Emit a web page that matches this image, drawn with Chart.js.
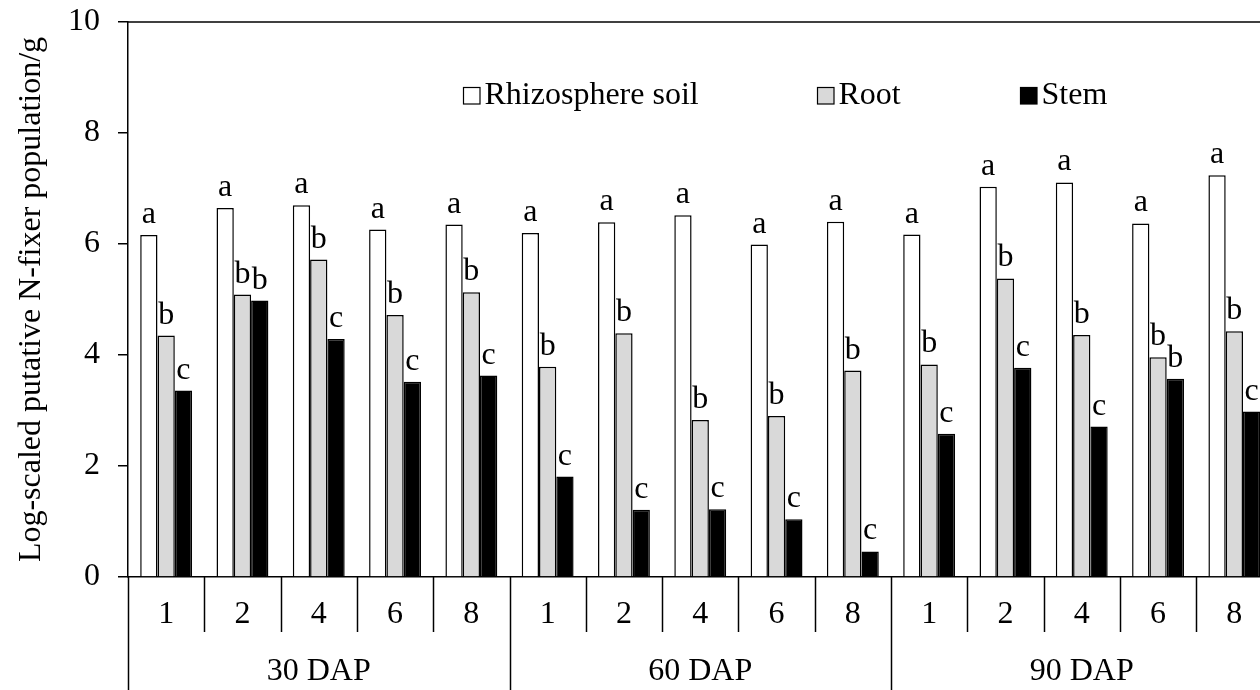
<!DOCTYPE html>
<html>
<head>
<meta charset="utf-8">
<script src="https://cdn.jsdelivr.net/npm/chart.js@4.4.1/dist/chart.umd.min.js"></script>
<style>
  html, body { margin: 0; padding: 0; background: #fff; overflow: hidden; }
  canvas { display: block; }
</style>
</head>
<body>
<canvas id="myChart" width="1280" height="690"></canvas>
<script>
// sub categories (days) and their DAP groups
const categories = ['1','2','4','6','8','1','2','4','6','8','1','2','4','6','8'];
const groups = ['30 DAP','60 DAP','90 DAP'];
const seriesNames = ['Rhizosphere soil','Root','Stem'];

// values
const rhizosphere = [6.16,6.65,6.70,6.26,6.35, 6.20,6.39,6.52,5.99,6.40, 6.17,7.03,7.11,6.37,7.24];
const root        = [4.35,5.09,5.72,4.72,5.13, 3.79,4.39,2.83,2.90,3.72, 3.83,5.38,4.36,3.96,4.43];
const stem        = [3.36,4.98,4.29,3.52,3.63, 1.81,1.21,1.22,1.04,0.46, 2.58,3.77,2.71,3.57,2.98];

// significance letters
const rhizoLetters = ['a','a','a','a','a','a','a','a','a','a','a','a','a','a','a'];
const rootLetters  = ['b','b','b','b','b','b','b','b','b','b','b','b','b','b','b'];
const stemLetters  = ['c','b','c','c','c','c','c','c','c','c','c','c','c','b','c'];

const yTicks = [0,2,4,6,8,10];

const FONT = '"Liberation Serif", "Times New Roman", serif';

// letters above bars
const letterPlugin = {
  id: 'letters',
  afterDatasetsDraw(chart) {
    const ctx = chart.ctx;
    const sets = [rhizoLetters, rootLetters, stemLetters];
    ctx.save();
    ctx.font = '32px ' + FONT;
    ctx.fillStyle = '#000';
    ctx.textAlign = 'center';
    ctx.textBaseline = 'alphabetic';
    chart.data.datasets.forEach((ds, d) => {
      const meta = chart.getDatasetMeta(d);
      meta.data.forEach((bar, i) => {
        ctx.fillText(sets[d][i], bar.x, bar.y - 12);
      });
    });
    ctx.restore();
  }
};

// two-level category axis + top border + legend
const framePlugin = {
  id: 'frame',
  afterDraw(chart) {
    const ctx = chart.ctx;
    const area = chart.chartArea;
    const xs = chart.scales.x;
    const n = categories.length;
    const step = (area.right - area.left) / n;
    ctx.save();
    ctx.strokeStyle = '#000';
    ctx.lineWidth = 1.5;
    // top border
    ctx.beginPath();
    ctx.moveTo(area.left, area.top);
    ctx.lineTo(area.right, area.top);
    ctx.stroke();
    // separators
    for (let i = 0; i <= n; i++) {
      const x = Math.round(xs.getPixelForValue(Math.min(i, n - 1)) + (i === n ? step / 2 : -step / 2)) + 0.5;
      const len = (i % 5 === 0) ? 113 : 55;
      ctx.beginPath();
      ctx.moveTo(x, area.bottom);
      ctx.lineTo(x, area.bottom + len);
      ctx.stroke();
    }
    ctx.fillStyle = '#000';
    ctx.font = '32px ' + FONT;
    ctx.textAlign = 'center';
    ctx.textBaseline = 'middle';
    categories.forEach((c, i) => {
      ctx.fillText(c, xs.getPixelForValue(i), area.bottom + 38);
    });
    groups.forEach((g, k) => {
      const x = (xs.getPixelForValue(k * 5) + xs.getPixelForValue(k * 5 + 4)) / 2;
      ctx.fillText(g, x, area.bottom + 95);
    });
    // legend
    const legendX = [463, 817, 1020];
    ctx.textAlign = 'left';
    ctx.textBaseline = 'alphabetic';
    chart.data.datasets.forEach((ds, d) => {
      const bx = legendX[d];
      ctx.fillStyle = ds.backgroundColor;
      ctx.fillRect(bx, 87, 17, 17);
      ctx.lineWidth = 1.2;
      ctx.strokeRect(bx + 0.5, 87.5, 16.5, 16.5);
      ctx.fillStyle = '#000';
      ctx.fillText(ds.label, bx + 21.5, 103.5);
    });
    ctx.restore();
  }
};

new Chart(document.getElementById('myChart'), {
  type: 'bar',
  data: {
    labels: categories,
    datasets: [
      { label: seriesNames[0], data: rhizosphere, backgroundColor: '#ffffff', borderColor: '#000', borderWidth: 1.5 },
      { label: seriesNames[1], data: root, backgroundColor: '#d9d9d9', borderColor: '#000', borderWidth: 1.5 },
      { label: seriesNames[2], data: stem, backgroundColor: '#000000', borderColor: '#000', borderWidth: 1.5 }
    ]
  },
  options: {
    responsive: false,
    animation: false,
    devicePixelRatio: 1,
    layout: { padding: { top: 22, right: 7.5, left: 0, bottom: 0 } },
    datasets: { bar: { categoryPercentage: 0.68, barPercentage: 1.0 } },
    plugins: { legend: { display: false }, tooltip: { enabled: false } },
    scales: {
      x: {
        ticks: { display: false },
        grid: { display: false },
        border: { display: true, color: '#000', width: 1.5 },
        afterFit(scale) { scale.height = 113; }
      },
      y: {
        min: 0,
        max: 10,
        afterBuildTicks(scale) { scale.ticks = yTicks.map(v => ({ value: v })); },
        ticks: { color: '#000', font: { family: FONT, size: 32 }, padding: 18 },
        grid: { drawOnChartArea: false, color: '#000', lineWidth: 1.5, tickLength: 10 },
        border: { display: true, color: '#000', width: 1.5 },
        title: {
          display: true,
          text: 'Log-scaled putative N-fixer population/g',
          color: '#000',
          font: { family: FONT, size: 32 },
          padding: { top: 12, bottom: 0 }
        },
        afterFit(scale) {
          scale.width = 128;
          scale.paddingTop = 0;
          scale.paddingBottom = 0;
        }
      }
    }
  },
  plugins: [letterPlugin, framePlugin]
});
</script>
</body>
</html>
